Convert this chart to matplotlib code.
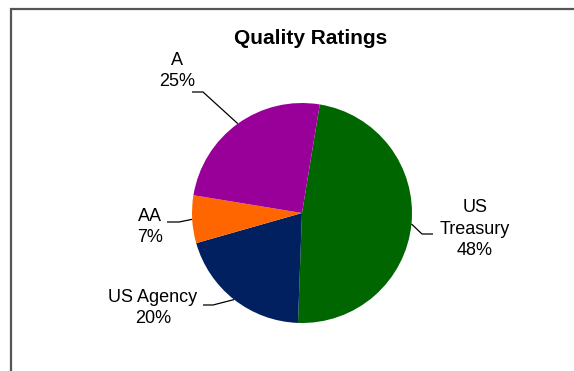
import matplotlib.pyplot as plt
import numpy as np
from matplotlib.patches import Rectangle

plt.rcParams['font.family'] = ['Liberation Sans', 'DejaVu Sans']

# ratings breakdown
categories = ['US Treasury', 'US Agency', 'AA', 'A']
label_names = ['US\nTreasury', 'US Agency', 'AA', 'A']
shares = [48, 20, 7, 25]
colors = ['#006600', '#002060', '#FF6600', '#990099']

# layout in pixel units (y measured upward)
W, H = 574, 371
center = (302, 158)
radius = 110
label_pos = [(475, 142), (153, 63), (150, 144), (177, 300)]
# elbow of each leader: (outer end, bend)
elbows = [((433, 137), (422, 137)),
          ((203, 66), (213, 66)),
          ((167, 149), (179, 149)),
          ((192, 279), (203, 279))]

fig = plt.figure(figsize=(W / 100, H / 100), dpi=100)
ax = fig.add_axes([0, 0, 1, 1])

wedges, _ = ax.pie(shares, colors=colors, startangle=80.7, counterclock=False,
                   center=center, radius=radius,
                   wedgeprops=dict(edgecolor='none'))
ax.set_xlim(0, W)
ax.set_ylim(0, H)
ax.set_aspect('equal')
ax.axis('off')

for w, name, val, pos, (p0, p1) in zip(wedges, label_names, shares, label_pos, elbows):
    mid = np.deg2rad((w.theta1 + w.theta2) / 2)
    edge = (center[0] + radius * np.cos(mid), center[1] + radius * np.sin(mid))
    ax.plot([p0[0], p1[0], edge[0]], [p0[1], p1[1], edge[1]],
            color='black', lw=0.9, solid_capstyle='butt')
    ax.text(pos[0], pos[1], f'{name}\n{val}%', ha='center', va='center',
            fontsize=13, linespacing=1.38, color='black')

ax.text(311, 333, 'Quality Ratings', ha='center', va='center',
        fontsize=15, fontweight='bold')

fig.add_artist(Rectangle((11 / W, -0.1), 2, 1.1 - 9 / H, transform=fig.transFigure,
                         fill=False, edgecolor='#555555', lw=1.6))

fig.savefig('out.png', dpi=100)
